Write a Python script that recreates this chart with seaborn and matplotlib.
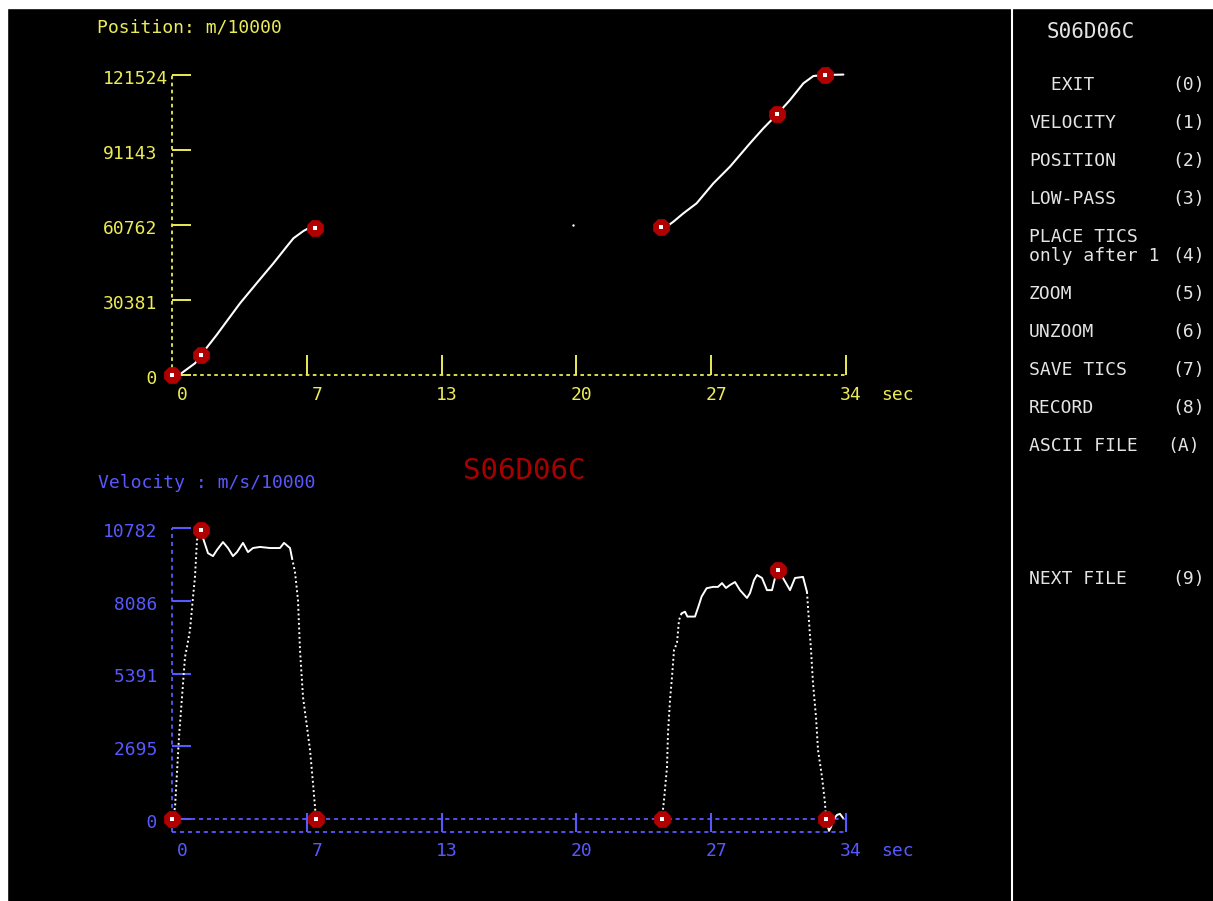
import numpy as np
import pandas as pd
import matplotlib.pyplot as plt
import seaborn as sns
from matplotlib.patches import Rectangle

## DATA ##

file_name = "S06D06C"

time_ticks = [0, 6.74, 13.48, 20.22, 26.96, 33.7]
time_labels = ["0", "7", "13", "20", "27", "34"]
pos_ticks = [0, 30381, 60762, 91143, 121524]
vel_ticks = [0, 2695, 5391, 8086, 10782]

# position (m/10000), two recorded runs + a stray sample
pos_t1 = [0, 0.4, 1.15, 1.45, 2.23, 3.4, 4.23, 5.07, 5.73, 6.07, 6.57, 6.82, 7.15]
pos_v1 = [0, 300, 4740, 8100, 16200, 29040, 37150, 45250, 51970, 55370, 58330, 59420, 59420]
pos_t2 = [24.45, 24.8, 25.07, 25.57, 26.23, 27.07, 27.9, 28.9, 29.57, 30.27, 30.9, 31.57, 32.07, 32.65, 33.57]
pos_v2 = [60090, 60500, 62110, 65500, 69550, 77650, 84400, 93860, 99940, 105730, 111400, 118160, 121120, 121524, 121700]
stray_t = [20.03]
stray_v = [60762]

pos_mark_t = [0, 1.45, 7.15, 24.45, 30.27, 32.65]
pos_mark_v = [0, 8100, 59420, 60090, 105730, 121524]

# velocity (m/s/10000)
rise1_t = [0, 0.15, 0.35, 0.65, 0.75, 0.9, 1.05, 1.15, 1.25, 1.45]
rise1_v = [0, 410, 3040, 6000, 6370, 7000, 8220, 8970, 10340, 10700]
flat1_t = [1.45, 1.55, 1.8, 2.05, 2.25, 2.55, 2.8, 3.05, 3.25, 3.55, 3.8, 4.05, 4.4, 4.9, 5.4, 5.6, 5.9, 6.0]
flat1_v = [10700, 10410, 9850, 9740, 9970, 10260, 10040, 9740, 9890, 10230, 9890, 10040, 10080, 10040, 10040, 10230, 10040, 9670]
fall1_t = [6.0, 6.15, 6.3, 6.4, 6.55, 6.75, 6.9, 7.05, 7.15, 7.2]
fall1_v = [9670, 9150, 8110, 6260, 4520, 3410, 2560, 1330, 440, 0]
rise2_t = [24.5, 24.6, 24.75, 24.8, 24.9, 25.0, 25.1, 25.25, 25.35, 25.48]
rise2_v = [0, 700, 1930, 3190, 4410, 5260, 6260, 6520, 7370, 7620]
flat2_t = [25.48, 25.65, 25.77, 26.15, 26.32, 26.48, 26.73, 27.05, 27.3, 27.5, 27.7, 27.9, 28.15, 28.4,
           28.75, 28.9, 29.1, 29.25, 29.5, 29.75, 30.0, 30.15, 30.3, 30.55, 30.9, 31.15, 31.55, 31.75]
flat2_v = [7620, 7680, 7500, 7500, 7870, 8240, 8550, 8600, 8600, 8740, 8560, 8670, 8780, 8480,
           8190, 8370, 8850, 9040, 8930, 8480, 8480, 8930, 9230, 8930, 8480, 8930, 8970, 8410]
fall2_t = [31.75, 31.8, 31.95, 32.05, 32.2, 32.3, 32.5, 32.65, 32.7]
fall2_v = [8410, 7850, 6260, 5040, 3780, 2560, 1560, 590, 0]
tail_t = [32.7, 32.85, 32.95, 33.05, 33.25, 33.4, 33.55]
tail_v = [0, -440, -300, -40, 150, 190, 40]

vel_mark_t = [0, 1.45, 7.2, 24.5, 30.3, 32.7]
vel_mark_v = [0, 10700, 0, 0, 9230, 0]

menu_left = [" EXIT", "VELOCITY", "POSITION", "LOW-PASS", "PLACE TICS", "only after 1", "ZOOM",
             "UNZOOM", "SAVE TICS", "RECORD", "ASCII FILE", "NEXT FILE"]
menu_keys = ["(0)", "(1)", "(2)", "(3)", "", "(4)", "(5)", "(6)", "(7)", "(8)", "(A)", "(9)"]

##############

YEL = "#ecec55"
BLU = "#5858ff"
RED = "#b00000"
MENU = "#e4e4e4"

sns.set_style("dark", {"axes.facecolor": "black", "figure.facecolor": "black"})
plt.rcParams['font.family'] = ['DejaVu Sans Mono', 'DejaVu Sans']

W, H = 1213, 901
fig = plt.figure(figsize=(W / 100, H / 100), dpi=100, facecolor="black")


def px_axes(left, top, right, bottom):
    return fig.add_axes([left / W, 1 - bottom / H, (right - left) / W, (bottom - top) / H])


SEC = 20.0  # pixels per second

# top: position
ax1 = px_axes(100, 40, 1000, 420)
py1 = 60762 / 150.0
ax1.set_xlim((100 - 172) / SEC, (1000 - 172) / SEC)
ax1.set_ylim((375 - 420) * py1, (375 - 40) * py1)

# bottom: velocity
ax2 = px_axes(100, 500, 1000, 880)
py2 = 10782 / 291.0
ax2.set_xlim((100 - 172) / SEC, (1000 - 172) / SEC)
ax2.set_ylim((819 - 880) * py2, (819 - 500) * py2)

fs = 13

# --- position axes decorations
ax1.plot([0, 0], [0, pos_ticks[-1]], color=YEL, lw=1.3, ls=(0, (2.0, 1.9)))
ax1.plot([0, time_ticks[-1]], [0, 0], color=YEL, lw=1.3, ls=(0, (2.0, 1.9)))
for v in pos_ticks:
    ax1.plot([0, 19 / SEC], [v, v], color=YEL, lw=1.4, solid_capstyle="butt")
    ax1.text((103 - 172) / SEC, v - 4 * py1, f"{v:5d}", color=YEL, fontsize=fs, ha="left", va="center")
for t, lab in zip(time_ticks, time_labels):
    if t > 0:
        ax1.plot([t, t], [0, 20 * py1], color=YEL, lw=1.4, solid_capstyle="butt")
    ax1.text(t + 16 / SEC, -20 * py1, lab, color=YEL, fontsize=fs, ha="right", va="center")
ax1.text(time_ticks[-1] + 35 / SEC, -20 * py1, "sec", color=YEL, fontsize=fs, ha="left", va="center")

pos_df = pd.DataFrame({
    "t": pos_t1 + pos_t2,
    "p": pos_v1 + pos_v2,
    "seg": ["a"] * len(pos_t1) + ["b"] * len(pos_t2),
})
sns.lineplot(data=pos_df, x="t", y="p", units="seg", estimator=None, sort=False,
             color="white", lw=1.5, ax=ax1, legend=False)
sns.scatterplot(x=stray_t, y=stray_v, color="white", s=3, linewidth=0, ax=ax1)
sns.scatterplot(x=pos_mark_t, y=pos_mark_v, marker="8", s=170, color=RED, edgecolor=RED,
                linewidth=0, ax=ax1, zorder=5)
sns.scatterplot(x=pos_mark_t, y=pos_mark_v, marker="s", s=5, color="white", linewidth=0,
                ax=ax1, zorder=6)

# --- velocity axes decorations
low = -13 * py2
ax2.plot([0, 0], [low, vel_ticks[-1]], color=BLU, lw=1.3, ls=(0, (2.3, 2.1)))
ax2.plot([19 / SEC, time_ticks[-1]], [0, 0], color=BLU, lw=1.3, ls=(0, (2.3, 2.1)))
ax2.plot([0, time_ticks[-1]], [low, low], color=BLU, lw=1.3, ls=(0, (2.3, 2.1)))
for v in vel_ticks:
    ax2.plot([0, 19 / SEC], [v, v], color=BLU, lw=1.5, solid_capstyle="butt")
    ax2.text((103 - 172) / SEC, v - 4 * py2, f"{v:5d}", color=BLU, fontsize=fs, ha="left", va="center")
for t, lab in zip(time_ticks, time_labels):
    if t > 0:
        ax2.plot([t, t], [low, 6 * py2], color=BLU, lw=1.5, solid_capstyle="butt")
    ax2.text(t + 16 / SEC, -32 * py2, lab, color=BLU, fontsize=fs, ha="right", va="center")
ax2.text(time_ticks[-1] + 35 / SEC, -32 * py2, "sec", color=BLU, fontsize=fs, ha="left", va="center")

segs = [("r1", "edge", rise1_t, rise1_v), ("f1", "flat", flat1_t, flat1_v),
        ("d1", "edge", fall1_t, fall1_v), ("r2", "edge", rise2_t, rise2_v),
        ("f2", "flat", flat2_t, flat2_v), ("d2", "edge", fall2_t, fall2_v),
        ("tl", "flat", tail_t, tail_v)]
rows = []
for name, kind, ts, vs in segs:
    for t, v in zip(ts, vs):
        rows.append({"t": t, "v": v, "seg": name, "kind": kind})
vel_df = pd.DataFrame(rows)

sns.lineplot(data=vel_df, x="t", y="v", units="seg", estimator=None, sort=False,
             style="kind", dashes={"edge": (1, 1.4), "flat": ""}, color="white", lw=1.4,
             ax=ax2, legend=False)
sns.scatterplot(x=vel_mark_t, y=vel_mark_v, marker="8", s=170, color=RED, edgecolor=RED,
                linewidth=0, ax=ax2, zorder=5)
sns.scatterplot(x=vel_mark_t, y=vel_mark_v, marker="s", s=5, color="white", linewidth=0,
                ax=ax2, zorder=6)

for ax in (ax1, ax2):
    ax.set_axis_off()

# titles
fig.text(97 / W, 1 - 28 / H, "Position: m/10000", color=YEL, fontsize=fs, ha="left", va="center")
fig.text(98 / W, 1 - 483 / H, "Velocity : m/s/10000", color=BLU, fontsize=fs, ha="left", va="center")
fig.text(524 / W, 1 - 471 / H, file_name, color="#a80000", fontsize=21, ha="center", va="center")

# right menu panel
fig.add_artist(plt.Line2D([1012 / W, 1012 / W], [0, 1 - 8 / H], color="white", lw=1.5))
fig.text(1091 / W, 1 - 32 / H, file_name, color=MENU, fontsize=15, ha="center", va="center")
menu_y = [85, 123, 161, 199, 237, 256, 294, 332, 370, 408, 446, 579]
for lab, key, y in zip(menu_left, menu_keys, menu_y):
    x = 1029 if not lab.startswith(" ") else 1040
    fig.text(x / W, 1 - y / H, lab, color=MENU, fontsize=fs, ha="left", va="center")
    if key:
        xr = 1200 if key == "(A)" else 1205
        fig.text(xr / W, 1 - y / H, key, color=MENU, fontsize=fs, ha="right", va="center")

# white frame on left and top
fig.add_artist(Rectangle((0, 0), 7 / W, 1, transform=fig.transFigure, color="white"))
fig.add_artist(Rectangle((0, 1 - 8 / H), 1, 8 / H, transform=fig.transFigure, color="white"))

fig.savefig("out.png", dpi=100, facecolor="black")
